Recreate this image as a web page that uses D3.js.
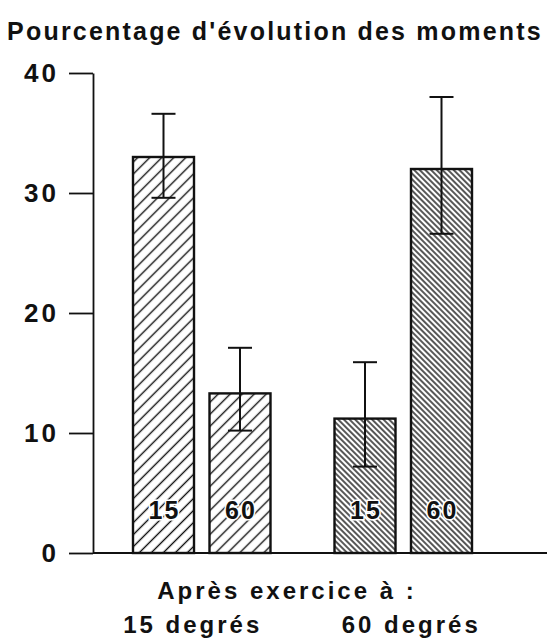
<!DOCTYPE html>
<html>
<head>
<meta charset="utf-8">
<script src="https://cdn.jsdelivr.net/npm/d3@7"></script>
<style>
  body { margin: 0; background: #fff; }
  text { font-family: "Liberation Sans", Arial, sans-serif; font-weight: bold; fill: #111; }
</style>
</head>
<body>
<div id="chart"></div>
<script>
// data
const groups = ["15 degrés", "60 degrés"];   // exercise speed
const speeds = ["15", "60"];                 // test speed (bar labels)
const means15 = [33.0, 13.3];
const means60 = [11.2, 32.0];
const upper15 = [36.6, 17.1];
const lower15 = [29.6, 10.2];
const upper60 = [15.9, 38.0];
const lower60 = [7.2, 26.6];
const yTicks = [0, 10, 20, 30, 40];

const width = 547, height = 640;

const svg = d3.select("#chart").append("svg")
  .attr("width", width)
  .attr("height", height);

// hatch patterns: sparse "/" for 15 deg group, dense "\" for 60 deg group
const defs = svg.append("defs");
function hatch(id, size, angle) {
  const p = defs.append("pattern")
    .attr("id", id)
    .attr("patternUnits", "userSpaceOnUse")
    .attr("width", size)
    .attr("height", size)
    .attr("patternTransform", `rotate(${angle})`);
  p.append("rect").attr("width", size).attr("height", size).attr("fill", "#fff");
  p.append("line")
    .attr("x1", size / 2).attr("y1", 0)
    .attr("x2", size / 2).attr("y2", size)
    .attr("stroke", "#111")
    .attr("stroke-width", 1.4);
}
hatch("hatchA", 8.5, 45);
hatch("hatchB", 4, -45);

// scales
const y = d3.scaleLinear().domain([0, 40]).range([553, 73]);
const x0 = d3.scaleBand().domain(groups).range([133, 472]).paddingInner(0.3176);
const x1 = d3.scaleBand().domain(speeds).range([0, x0.bandwidth()]).paddingInner(0.2026);

const rows = [];
groups.forEach((g, i) => {
  speeds.forEach((s, j) => {
    const m = i === 0 ? means15 : means60;
    const u = i === 0 ? upper15 : upper60;
    const l = i === 0 ? lower15 : lower60;
    rows.push({ group: g, speed: s, gi: i, value: m[j], hi: u[j], lo: l[j] });
  });
});

// title
svg.append("text")
  .attr("x", 275).attr("y", 40)
  .attr("text-anchor", "middle")
  .attr("font-size", 25)
  .attr("letter-spacing", 2.2)
  .text("Pourcentage d'évolution des moments");

// y axis
const yAxis = svg.append("g")
  .attr("transform", "translate(93,0)")
  .call(d3.axisLeft(y).tickValues(yTicks).tickSize(24).tickSizeOuter(0).tickPadding(10));
yAxis.select(".domain").attr("stroke", "#111").attr("stroke-width", 1.8);
yAxis.selectAll(".tick line").attr("stroke", "#111").attr("stroke-width", 1.8);
yAxis.selectAll(".tick text")
  .attr("font-size", 26)
  .attr("letter-spacing", 3)
  .attr("font-family", "Liberation Sans, Arial, sans-serif")
  .attr("font-weight", "bold")
  .attr("fill", "#111");

// baseline
svg.append("line")
  .attr("x1", 93).attr("x2", 547)
  .attr("y1", y(0)).attr("y2", y(0))
  .attr("stroke", "#111").attr("stroke-width", 1.8);

// bars
const bar = svg.append("g").selectAll("g")
  .data(rows)
  .join("g")
  .attr("transform", d => `translate(${x0(d.group) + x1(d.speed)},0)`);

bar.append("rect")
  .attr("x", 0)
  .attr("y", d => y(d.value))
  .attr("width", x1.bandwidth())
  .attr("height", d => y(0) - y(d.value))
  .attr("fill", d => d.gi === 0 ? "url(#hatchA)" : "url(#hatchB)")
  .attr("stroke", "#111")
  .attr("stroke-width", 2.4);

// error bars
const cx = x1.bandwidth() / 2;
bar.append("line")
  .attr("x1", cx).attr("x2", cx)
  .attr("y1", d => y(d.hi)).attr("y2", d => y(d.lo))
  .attr("stroke", "#111").attr("stroke-width", 2);
bar.append("line")
  .attr("x1", cx - 12).attr("x2", cx + 12)
  .attr("y1", d => y(d.hi)).attr("y2", d => y(d.hi))
  .attr("stroke", "#111").attr("stroke-width", 2);
bar.append("line")
  .attr("x1", cx - 12).attr("x2", cx + 12)
  .attr("y1", d => y(d.lo)).attr("y2", d => y(d.lo))
  .attr("stroke", "#111").attr("stroke-width", 2);

// speed labels inside bars
bar.append("text")
  .attr("x", cx + 1)
  .attr("y", 519)
  .attr("text-anchor", "middle")
  .attr("font-size", 25)
  .attr("letter-spacing", 2)
  .attr("stroke", "#fff")
  .attr("stroke-width", 3)
  .attr("paint-order", "stroke")
  .text(d => d.speed);

// x labels
svg.append("text")
  .attr("x", 287).attr("y", 599)
  .attr("text-anchor", "middle")
  .attr("font-size", 24)
  .attr("letter-spacing", 3)
  .text("Après exercice à :");

svg.append("g").selectAll("text")
  .data(groups)
  .join("text")
  .attr("x", (d, i) => x0(d) + x0.bandwidth() / 2 + (i === 0 ? -9 : 8))
  .attr("y", 633)
  .attr("text-anchor", "middle")
  .attr("font-size", 24)
  .attr("letter-spacing", 3)
  .text(d => d);
</script>
</body>
</html>
